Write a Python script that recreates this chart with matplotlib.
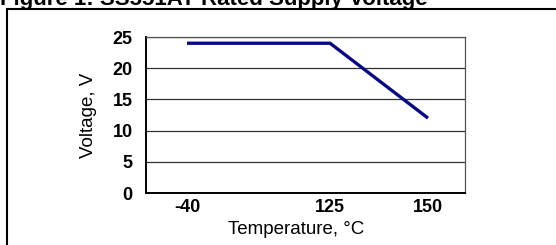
import numpy as np
import matplotlib
matplotlib.use("Agg")
import matplotlib.pyplot as plt
from matplotlib.patches import Rectangle

# Data
temperatures = [-40, 125, 150]
voltages = [24, 24, 12]
x_tick_labels = ["-40", "125", "150"]
y_ticks = [0, 5, 10, 15, 20, 25]

title = "Figure 1: SS551AT Rated Supply Voltage"
xlabel = "Temperature, \u00b0C"
ylabel = "Voltage, V"

plt.rcParams['font.family'] = ['Liberation Sans', 'DejaVu Sans']

W, H = 556, 245
fig = plt.figure(figsize=(W / 100, H / 100), dpi=100)

# Axes placement (pixels)
left, right, top, bottom = 146, 465, 37, 193
aw, ah = right - left, bottom - top
ax = fig.add_axes([left / W, 1 - bottom / H, aw / W, ah / H])

# Non-uniform category-like x scale
anchor_t = np.array([-80.0, -40.0, 125.0, 150.0, 180.0])
anchor_f = np.array([0.0, 0.1285, 0.577, 0.884, 1.0])
fwd = lambda t: np.interp(t, anchor_t, anchor_f)
inv = lambda f: np.interp(f, anchor_f, anchor_t)
ax.set_xscale('function', functions=(fwd, inv))
ax.set_xlim(-80, 180)
ax.set_ylim(0, 25)

ax.plot(temperatures, voltages, color='#0a0a80', linewidth=2.4, solid_capstyle='butt', zorder=3)

ax.set_xticks(temperatures)
ax.set_xticklabels(x_tick_labels)
ax.set_yticks(y_ticks)
ax.tick_params(axis='both', length=0, labelsize=13, colors='black')
ax.tick_params(axis='y', pad=9.5)
ax.tick_params(axis='x', pad=4.5)
for lbl in ax.get_xticklabels() + ax.get_yticklabels():
    lbl.set_fontweight('bold')

ax.grid(axis='y', color='#333333', linewidth=0.9)
ax.set_axisbelow(True)
for s in ['top', 'right']:
    ax.spines[s].set_color('#555555')
    ax.spines[s].set_linewidth(0.9)
for s in ['left', 'bottom']:
    ax.spines[s].set_color('black')
    ax.spines[s].set_linewidth(1.4)

ax.set_xlabel(xlabel, fontsize=13.5)
ax.set_ylabel(ylabel, fontsize=13.5)
ax.xaxis.set_label_coords((296 - left) / aw, (bottom - 221) / ah)
ax.yaxis.set_label_coords((97 - left) / aw, 0.5)

# Figure title (partly clipped at top)
fig.text(0.0, 1 - 5.5 / H, title, fontsize=16, fontweight='bold', ha='left', va='baseline')

# Surrounding frame
rect = Rectangle((7 / W, -0.1), 1.2, 1 - 9.5 / H + 0.1, transform=fig.transFigure,
                 fill=False, edgecolor='black', linewidth=1.5, clip_on=False)
fig.patches.append(rect)

fig.savefig('out.png', dpi=100)
